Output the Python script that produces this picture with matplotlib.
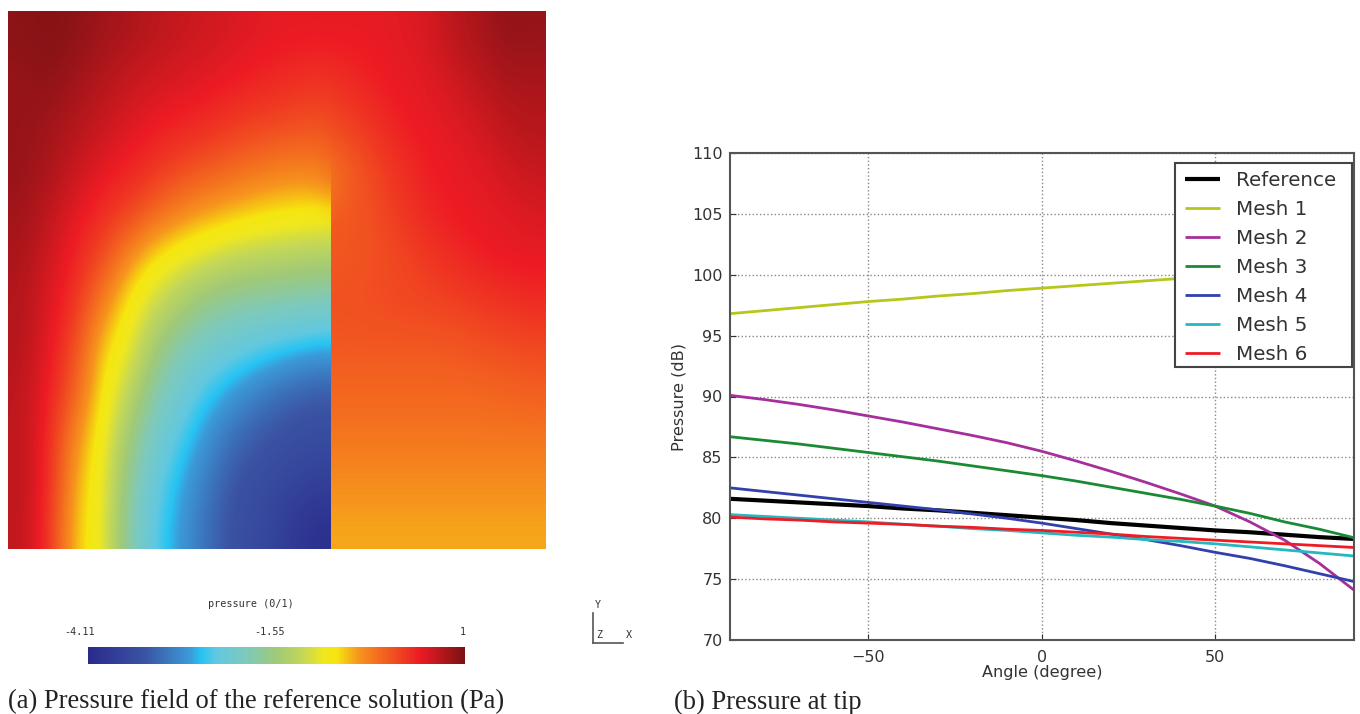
import numpy as np
import matplotlib
matplotlib.use('Agg')
import matplotlib.pyplot as plt
from matplotlib.colors import LinearSegmentedColormap
from matplotlib.lines import Line2D
from matplotlib.patches import Rectangle

W, H = 1360, 714

# pressure field on a coarse grid (0 = low end of colorbar, 1 = top)
# first 12 columns lie left of the plate, last 8 right of it
field = np.array([
    [.98, .99, .98, .96, .95, .93, .92, .91, .90, .89, .885, .885, .885, .885, .89, .90, .93, .95, .975, .97],
    [.97, .98, .96, .94, .92, .91, .90, .89, .88, .87, .86, .85, .86, .875, .885, .89, .91, .93, .95, .95],
    [.97, .96, .94, .92, .90, .88, .87, .86, .84, .83, .82, .81, .83, .85, .875, .885, .89, .91, .93, .94],
    [.97, .95, .92, .89, .87, .85, .82, .80, .78, .76, .75, .75, .78, .82, .85, .875, .885, .89, .91, .92],
    [.96, .93, .89, .86, .83, .78, .74, .71, .69, .67, .66, .65, .80, .81, .84, .865, .88, .885, .89, .90],
    [.95, .91, .87, .82, .73, .66, .62, .59, .56, .55, .54, .53, .80, .81, .82, .84, .86, .875, .885, .885],
    [.94, .90, .85, .75, .65, .58, .52, .47, .45, .44, .43, .42, .81, .815, .82, .825, .83, .84, .85, .86],
    [.94, .89, .82, .68, .62, .50, .43, .39, .36, .33, .31, .29, .80, .80, .80, .80, .80, .81, .815, .82],
    [.93, .88, .79, .66, .56, .44, .37, .31, .26, .22, .18, .16, .78, .78, .78, .78, .78, .78, .785, .79],
    [.93, .87, .73, .64, .50, .39, .32, .25, .19, .15, .13, .12, .76, .76, .76, .76, .76, .76, .76, .76],
    [.93, .87, .70, .63, .46, .35, .28, .21, .14, .12, .10, .08, .73, .73, .73, .73, .73, .73, .73, .73],
    [.93, .86, .68, .63, .44, .33, .26, .19, .13, .11, .06, .02, .705, .705, .705, .705, .705, .705, .705, .705],
])

angle = [-90, -80, -70, -60, -50, -40, -30, -20, -10, 0, 10, 20, 30, 40, 50, 60, 70, 80, 90]
reference = [81.6, 81.45, 81.3, 81.15, 81.0, 80.8, 80.65, 80.45, 80.25, 80.05, 79.85, 79.6, 79.4, 79.2, 79.0, 78.85, 78.65, 78.45, 78.3]
mesh1 = [96.8, 97.05, 97.3, 97.55, 97.8, 98.0, 98.25, 98.45, 98.7, 98.9, 99.1, 99.3, 99.5, 99.7, 99.9, 100.05, 100.2, 100.35, 100.5]
mesh2 = [90.1, 89.75, 89.35, 88.9, 88.4, 87.9, 87.35, 86.8, 86.2, 85.5, 84.7, 83.85, 82.95, 82.0, 81.0, 79.7, 78.2, 76.3, 74.1]
mesh3 = [86.7, 86.4, 86.1, 85.75, 85.4, 85.05, 84.7, 84.3, 83.9, 83.5, 83.05, 82.55, 82.05, 81.55, 81.0, 80.4, 79.7, 79.1, 78.4]
mesh4 = [82.5, 82.2, 81.9, 81.6, 81.3, 81.0, 80.7, 80.35, 80.0, 79.6, 79.15, 78.7, 78.25, 77.75, 77.2, 76.7, 76.1, 75.45, 74.8]
mesh5 = [80.3, 80.15, 80.0, 79.85, 79.7, 79.5, 79.35, 79.15, 79.0, 78.8, 78.6, 78.45, 78.25, 78.1, 77.9, 77.65, 77.4, 77.15, 76.9]
mesh6 = [80.1, 79.95, 79.85, 79.7, 79.6, 79.5, 79.35, 79.25, 79.1, 79.0, 78.85, 78.7, 78.5, 78.35, 78.2, 78.05, 77.9, 77.75, 77.6]

labels = ['Reference', 'Mesh 1', 'Mesh 2', 'Mesh 3', 'Mesh 4', 'Mesh 5', 'Mesh 6']
colors = ['#000000', '#b5c71a', '#a5309c', '#1a8a35', '#3240ac', '#25b8c0', '#ee1c25']
widths = [3.0, 2.0, 2.0, 2.0, 2.0, 2.0, 2.0]
yticks = [70, 75, 80, 85, 90, 95, 100, 105, 110]
xticks = [-50, 0, 50]

stops = [(0.0, '#2a2a8c'), (0.15, '#3b54a4'), (0.27, '#3c9ad8'), (0.30, '#27c4f4'), (0.34, '#62c8e0'),
         (0.42, '#7ecabc'), (0.50, '#a0c978'), (0.57, '#c4d858'), (0.625, '#f0e81e'), (0.66, '#f6e60f'),
         (0.72, '#f7941d'), (0.88, '#ed1c24'), (1.0, '#7a1214')]
cmap = LinearSegmentedColormap.from_list('field', stops, N=512)


def px_axes(x0, y0, x1, y1):
    # pixel box (y down) to a new axes
    return fig.add_axes([x0 / W, 1 - y1 / H, (x1 - x0) / W, (y1 - y0) / H])


def px_text(x, y, s, **kw):
    fig.text(x / W, 1 - y / H, s, va='center', **kw)


fig = plt.figure(figsize=(W / 100, H / 100), dpi=100)

# left panel: two halves keep the jump across the plate sharp,
# whole grid faded in on top above the plate tip so no seam shows there
ax = px_axes(8, 11, 546, 549)
img = dict(cmap=cmap, vmin=0, vmax=1, aspect='auto', interpolation='bicubic', interpolation_stage='data')
ax.imshow(field[:, :12], extent=(8, 331, 549, 11), **img)
ax.imshow(field[:, 12:], extent=(331, 546, 549, 11), **img)
fade = np.zeros(field.shape)
fade[:4] = 1
ax.imshow(field, extent=(8, 546, 549, 11), alpha=fade, **img)
ax.set_xlim(8, 546)
ax.set_ylim(549, 11)
ax.axis('off')

cax = px_axes(88, 647, 465, 664)
cax.imshow([np.linspace(0, 1, 512)], cmap=cmap, aspect='auto', vmin=0, vmax=1)
cax.axis('off')

mono = dict(family='DejaVu Sans Mono', fontsize=7.3, color='#333333', ha='center')
px_text(251, 604, 'pressure (0/1)', **mono)
px_text(80, 632, '-4.11', **mono)
px_text(270, 632, '-1.55', **mono)
px_text(463, 632, '1', **mono)
px_text(598, 605, 'Y', **mono)
px_text(599, 635, 'Z', **mono)
px_text(629, 635, 'X', **mono)
for xs, ys in [((593, 593), (613, 643)), ((593, 623), (643, 643))]:
    fig.add_artist(Line2D(np.array(xs) / W, 1 - np.array(ys) / H, color='#555555', lw=1.2))

# right panel
ax2 = px_axes(729.5, 153, 1354, 640)
series = [reference, mesh1, mesh2, mesh3, mesh4, mesh5, mesh6]
for vals, lab, col, lw in zip(series, labels, colors, widths):
    ax2.plot(angle, vals, color=col, lw=lw, label=lab, solid_capstyle='butt')
ax2.set_xlim(-90, 90)
ax2.set_ylim(70, 110)
ax2.set_xticks(xticks, ['\u221250', '0', '50'])
ax2.set_yticks(yticks)
ax2.grid(True, ls=':', color='#888888', lw=1.0)
ax2.set_axisbelow(True)
ax2.tick_params(direction='in', length=4, width=0.8, labelsize=11.5, colors='#333333', pad=7.5)
ax2.tick_params(axis='y', pad=5)
for sp in ax2.spines.values():
    sp.set_linewidth(1.5)
    sp.set_color('#555555')

# legend box drawn by hand, its padding is not even left/right
ax2.add_patch(Rectangle((1175 / W, 1 - 367 / H), 177 / W, 204 / H, transform=fig.transFigure,
                        facecolor='white', edgecolor='#444444', lw=1.5, zorder=4, clip_on=False))
leg = ax2.legend(loc='upper left', bbox_to_anchor=(1185 / W, 1 - 171 / H), bbox_transform=fig.transFigure,
                 fontsize=14.3, frameon=False, handlelength=1.75, handletextpad=0.8,
                 labelspacing=0.5, borderpad=0, borderaxespad=0)
for t in leg.get_texts():
    t.set_color('#333333')

px_text(1042, 672, 'Angle (degree)', fontsize=11.6, color='#333333', ha='center')
px_text(679, 397, 'Pressure (dB)', fontsize=11.6, color='#333333', ha='center', rotation=90)

serif = dict(family='Liberation Serif', fontsize=19.1, color='#222222', ha='left')
px_text(8, 702, '(a) Pressure field of the reference solution (Pa)', **serif)
px_text(674, 702, '(b) Pressure at tip', **serif)

fig.savefig('out.png', dpi=100)
